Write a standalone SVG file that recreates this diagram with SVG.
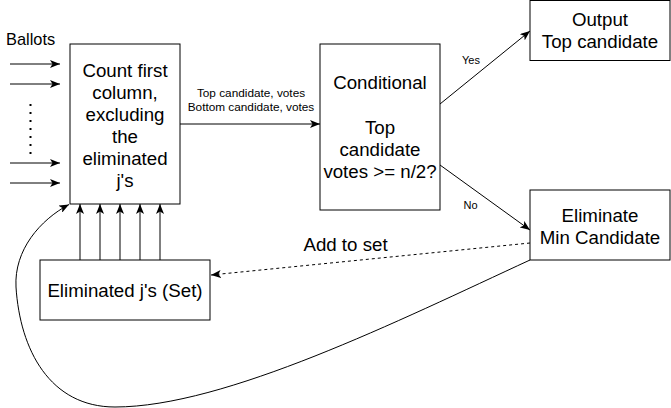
<svg xmlns="http://www.w3.org/2000/svg" width="671" height="408" viewBox="0 0 671 408">
<style>
.box{fill:#fff;stroke:#000;stroke-width:1}
.t{font-family:"Liberation Sans",Arial,Helvetica,sans-serif;font-size:18.7px;fill:#000;text-anchor:middle}
.s{font-family:"Liberation Sans",Arial,Helvetica,sans-serif;font-size:11.8px;fill:#000;text-anchor:middle}
.e{fill:none;stroke:#000;stroke-width:1}
</style>
<defs>
<marker id="arr" markerUnits="userSpaceOnUse" viewBox="0 0 10 8" refX="10" refY="4" markerWidth="10" markerHeight="8" orient="auto">
<path d="M0,0 L10,4 L0,8 L2.5,4 z" fill="#000"/>
</marker>
</defs>
<g id="connectors">
<line class="e" x1="10" y1="64" x2="60" y2="64" marker-end="url(#arr)"/>
<line class="e" x1="10" y1="84" x2="60" y2="84" marker-end="url(#arr)"/>
<line class="e" x1="10" y1="163" x2="60" y2="163" marker-end="url(#arr)"/>
<line class="e" x1="10" y1="183" x2="60" y2="183" marker-end="url(#arr)"/>
<line x1="30.5" y1="104" x2="30.5" y2="155" stroke="#000" stroke-width="2" stroke-dasharray="2 6"/>
<line class="e" x1="180" y1="124" x2="320" y2="124" marker-end="url(#arr)"/>
<line class="e" x1="440" y1="104" x2="530" y2="31" marker-end="url(#arr)"/>
<line class="e" x1="440" y1="165" x2="530" y2="230" marker-end="url(#arr)"/>
<line class="e" x1="80" y1="260" x2="80" y2="204" marker-end="url(#arr)"/>
<line class="e" x1="100" y1="260" x2="100" y2="204" marker-end="url(#arr)"/>
<line class="e" x1="120" y1="260" x2="120" y2="204" marker-end="url(#arr)"/>
<line class="e" x1="140" y1="260" x2="140" y2="204" marker-end="url(#arr)"/>
<line class="e" x1="160" y1="260" x2="160" y2="204" marker-end="url(#arr)"/>
<line class="e" x1="530" y1="243" x2="211" y2="275" stroke-dasharray="3 3" marker-end="url(#arr)"/>
<path class="e" d="M530,260 C400,320 225,407 115,407 C50,407 20,350 16,287 C14,250 40,220 69,204.5" marker-end="url(#arr)"/>
<text class="s" x="251" y="97">Top candidate, votes</text>
<text class="s" x="251" y="111">Bottom candidate, votes</text>
<text class="s" x="471" y="64" style="font-size:11px">Yes</text>
<text class="s" x="470.5" y="209" style="font-size:11px">No</text>
<text class="t" x="345.5" y="251">Add to set</text>
</g>
<g id="ballots">
<text class="t" x="6" y="45" style="font-size:16.4px;text-anchor:start">Ballots</text>
</g>
<g id="count">
<rect class="box" x="70" y="44" width="110" height="160"/>
<text class="t" x="125" y="77">Count first</text>
<text class="t" x="125" y="99">column,</text>
<text class="t" x="125" y="121">excluding</text>
<text class="t" x="125" y="143">the</text>
<text class="t" x="125" y="165">eliminated</text>
<text class="t" x="125" y="187">j's</text>
</g>
<g id="conditional">
<rect class="box" x="320" y="44" width="120" height="166"/>
<text class="t" x="380" y="89">Conditional</text>
<text class="t" x="380" y="134">Top</text>
<text class="t" x="380" y="156">candidate</text>
<text class="t" x="380" y="178">votes &gt;= n/2?</text>
</g>
<g id="output">
<rect class="box" x="530" y="0.5" width="140" height="60"/>
<text class="t" x="600" y="26">Output</text>
<text class="t" x="600" y="48">Top candidate</text>
</g>
<g id="eliminate">
<rect class="box" x="530" y="190" width="140" height="70"/>
<text class="t" x="600" y="222">Eliminate</text>
<text class="t" x="600" y="244">Min Candidate</text>
</g>
<g id="set">
<rect class="box" x="40" y="260" width="170" height="60"/>
<text class="t" x="125" y="297">Eliminated j's (Set)</text>
</g>
</svg>
